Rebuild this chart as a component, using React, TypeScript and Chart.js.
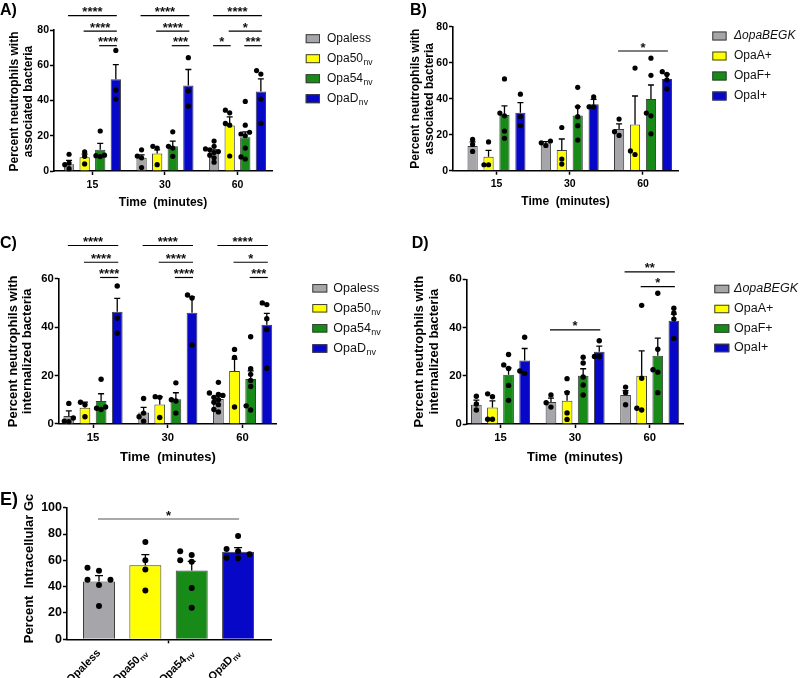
import React, { useEffect, useRef } from 'react';
import { Chart, registerables } from 'chart.js';

Chart.register(...registerables);

const FONT = "'Liberation Sans', Arial, Helvetica, sans-serif";

// ---------- categories ----------
const TIME_POINTS = ['15', '30', '60'];
const NV_STRAINS = ['Opaless', 'Opa50', 'Opa54', 'OpaD'];
const NV_SUBSCRIPTS = ['', 'nv', 'nv', 'nv'];
const PLUS_STRAINS = ['ΔopaBEGK', 'OpaA+', 'OpaF+', 'OpaI+'];
const PLUS_SUBSCRIPTS = ['', '', '', ''];
const STRAIN_COLORS = ['#A6A6AA', '#FFFF00', '#178A17', '#0707C8'];

// ---------- panel A: associated, Opa nv strains (rows = strain, cols = time) ----------
const A_MEAN = [[3.8, 7.5, 11.0], [7.8, 9.9, 25.8], [12.0, 14.0, 19.1], [52.0, 48.5, 45.1]];
const A_SEM = [[2.2, 1.6, 1.0], [1.8, 2.1, 4.9], [3.7, 3.0, 3.1], [8.3, 9.1, 7.2]];
const A_POINTS = [
  [[9.5, 4.5, 3.6, 1.3], [12, 8.5, 7.5, 2], [17, 14, 12.5, 12, 11, 10.5, 9, 7.5, 5]],
  [[10.8, 8.3, 4.0], [14, 13, 3.6], [34.5, 33, 27, 26, 8.5]],
  [[22.7, 9, 8.7, 8.2], [22.2, 14, 13, 8.3], [39.5, 26, 22, 21, 20, 13, 8, 6.8]],
  [[68.4, 45.9, 40.8], [64.3, 45.5, 36.8], [57, 55, 40.8, 27]],
];
const A_SIG = [
  { g1: 0, s1: 0, g2: 0, s2: 3, y: 88.1, label: '****' },
  { g1: 0, s1: 1, g2: 0, s2: 3, y: 79.4, label: '****' },
  { g1: 0, s1: 2, g2: 0, s2: 3, y: 71.1, label: '****' },
  { g1: 1, s1: 0, g2: 1, s2: 3, y: 88.1, label: '****' },
  { g1: 1, s1: 1, g2: 1, s2: 3, y: 79.4, label: '****' },
  { g1: 1, s1: 2, g2: 1, s2: 3, y: 71.1, label: '***' },
  { g1: 2, s1: 0, g2: 2, s2: 3, y: 88.1, label: '****' },
  { g1: 2, s1: 1, g2: 2, s2: 3, y: 79.4, label: '*' },
  { g1: 2, s1: 0, g2: 2, s2: 1, y: 71.1, label: '*' },
  { g1: 2, s1: 2, g2: 2, s2: 3, y: 71.1, label: '***' },
];

// ---------- panel B: associated, Opa+ strains ----------
const B_MEAN = [[13.7, 15.2, 23.1], [7.8, 11.5, 25.7], [31.0, 30.7, 39.8], [32.2, 36.9, 50.9]];
const B_SEM = [[2.3, 1.0, 2.9], [3.5, 6.1, 15.8], [5.0, 4.9, 7.8], [5.6, 2.7, 2.8]];
const B_POINTS = [
  [[17.4, 14.6, 10.7], [16.5, 15.5, 14], [28.7, 21.7, 19.6]],
  [[16, 3.3, 3.3], [24, 6.5, 3.7], [57, 11, 9]],
  [[51, 32, 30.5, 22, 18], [46.3, 35.5, 30, 25, 17], [62.5, 53, 32, 30.5, 20.5]],
  [[42.5, 30, 25], [41, 35.5, 35.5], [55, 53.5, 50.5, 45.5]],
];
const B_SIG = [{ g1: 2, s1: 0, g2: 2, s2: 3, y: 66.5, label: '*' }];

// ---------- panel C: internalized, Opa nv strains ----------
const C_MEAN = [[3.3, 4.8, 10.3], [6.7, 8.1, 21.9], [9.5, 10.2, 18.6], [46.4, 45.9, 41.0]];
const C_SEM = [[2.1, 2.1, 1.2], [2.3, 3.2, 4.9], [3.0, 2.7, 3.3], [5.5, 6.6, 4.7]];
const C_POINTS = [
  [[8.5, 2.5, 1.2, 1.0], [10.5, 4.5, 3, 1.2], [17.2, 12.8, 12.2, 11.8, 11, 10, 9, 8, 6, 5]],
  [[9, 8, 3], [11.3, 11, 2.7], [30.8, 27.5, 7]],
  [[18.5, 7, 6.5, 6], [17, 10, 9.5, 4.5], [36, 22.8, 20.5, 18, 15.5, 7.5, 5.8]],
  [[57, 43.8, 37.5], [53.3, 52, 32.6], [50, 49.3, 43.5, 39, 23]],
];
const C_SIG = [
  { g1: 0, s1: 0, g2: 0, s2: 3, y: 73.7, label: '****' },
  { g1: 0, s1: 1, g2: 0, s2: 3, y: 66.8, label: '****' },
  { g1: 0, s1: 2, g2: 0, s2: 3, y: 60.5, label: '****' },
  { g1: 1, s1: 0, g2: 1, s2: 3, y: 73.7, label: '****' },
  { g1: 1, s1: 1, g2: 1, s2: 3, y: 66.8, label: '****' },
  { g1: 1, s1: 2, g2: 1, s2: 3, y: 60.5, label: '****' },
  { g1: 2, s1: 0, g2: 2, s2: 3, y: 73.7, label: '****' },
  { g1: 2, s1: 1, g2: 2, s2: 3, y: 66.8, label: '*' },
  { g1: 2, s1: 2, g2: 2, s2: 3, y: 60.5, label: '***' },
];

// ---------- panel D: internalized, Opa+ strains ----------
const D_MEAN = [[8.0, 9.1, 12.0], [6.8, 9.6, 20.0], [20.4, 20.0, 28.3], [26.3, 30.0, 42.8]];
const D_SEM = [[1.9, 1.6, 1.8], [2.8, 3.7, 10.3], [2.9, 2.9, 7.3], [5.0, 2.3, 2.8]];
const D_POINTS = [
  [[11.5, 8.3, 5.8], [12, 8.8, 7], [15.3, 13, 8]],
  [[12.5, 11.3, 2, 2], [18.8, 13, 4.6, 1.9], [49.2, 19, 6.5, 5.8]],
  [[28.8, 24.5, 23, 16, 9.8], [27.7, 25.3, 19.5, 16.2, 12], [54.2, 31, 22.5, 21.5, 13]],
  [[36, 22, 21], [34.5, 28, 28], [48, 46, 43.5, 35.5]],
];
const D_SIG = [
  { g1: 1, s1: 0, g2: 1, s2: 3, y: 39, label: '*' },
  { g1: 2, s1: 0, g2: 2, s2: 3, y: 63.1, label: '**' },
  { g1: 2, s1: 1, g2: 2, s2: 3, y: 57, label: '*' },
];

// ---------- panel E: percent intracellular Gc ----------
const E_MEAN = [[44.0, 56.2, 52.2, 66.6]];
const E_SEM = [[4.4, 8.1, 7.0, 3.0]];
const E_POINTS = [[
  [54.4, 52, 45.3, 45.3, 41.3, 25.3],
  [74, 60, 53, 37],
  [67, 64, 60, 59, 39, 24],
  [78.5, 68.6, 67, 64.6, 62, 61.5],
]];
const E_SIG = [{ g1: 0, s1: 0, g2: 3, s2: 0, y: 91.4, label: '*' }];

const Y_AXIS_W = 30;

type Sig = { g1: number; s1: number; g2: number; s2: number; y: number; label: string };

const PANELS: any[] = [
  {
    key: 'A', letter: 'A)', letterX: 0, letterY: 15, letterSize: 16,
    L: 54, R: 272, T: 30, B: 171, yMax: 80, yStep: 20,
    xMin: -0.53, xMax: 2.476, xTicks: [0, 1, 2], xLabels: TIME_POINTS,
    catPct: 0.86, barPct: 0.66, single: false,
    means: A_MEAN, sems: A_SEM, points: A_POINTS, sigs: A_SIG, sigColor: '#000', starSize: 13,
    tickSize: 10.5, xTitle: 'Time  (minutes)', xTitleSize: 12, xH: 38.5,
    yTitle: ['Percent neutrophils with', 'associated bacteria'], yTitleX: [14.3, 28.7], yTitleCY: 101.5, yTitleSize: 12,
    legend: { names: NV_STRAINS, subs: NV_SUBSCRIPTS, italic: [false, false, false, false], boxX: 305.7, boxW: 14.3, boxH: 9, textX: 327, rows: [38.7, 58.7, 78.7, 98.7], size: 12 },
    r: 2.6, cap: 3, spread: 4.3, minDist: 4.3,
  },
  {
    key: 'B', letter: 'B)', letterX: 410, letterY: 15, letterSize: 16,
    L: 453, R: 678, T: 26.7, B: 170.7, yMax: 80, yStep: 20,
    xMin: -0.594, xMax: 2.478, xTicks: [0, 1, 2], xLabels: TIME_POINTS,
    catPct: 0.87, barPct: 0.64, single: false,
    means: B_MEAN, sems: B_SEM, points: B_POINTS, sigs: B_SIG, sigColor: '#000', starSize: 13,
    tickSize: 10.5, xTitle: 'Time  (minutes)', xTitleSize: 12, xH: 38.5,
    yTitle: ['Percent neutrophils with', 'associated bacteria'], yTitleX: [415.8, 430], yTitleCY: 98.7, yTitleSize: 12,
    legend: { names: PLUS_STRAINS, subs: PLUS_SUBSCRIPTS, italic: [true, false, false, false], boxX: 712.3, boxW: 14.3, boxH: 9, textX: 734, rows: [36, 56, 76, 96], size: 12 },
    r: 2.6, cap: 3, spread: 4.6, minDist: 4.6,
  },
  {
    key: 'C', letter: 'C)', letterX: 0, letterY: 248, letterSize: 16,
    L: 58.7, R: 277, T: 278.7, B: 424, yMax: 60, yStep: 20,
    xMin: -0.459, xMax: 2.46, xTicks: [0, 1, 2], xLabels: TIME_POINTS,
    catPct: 0.863, barPct: 0.665, single: false,
    means: C_MEAN, sems: C_SEM, points: C_POINTS, sigs: C_SIG, sigColor: '#000', starSize: 13,
    tickSize: 11.3, xTitle: 'Time  (minutes)', xTitleSize: 13, xH: 40.8,
    yTitle: ['Percent neutrophils with', 'internalized bacteria'], yTitleX: [13.5, 27.5], yTitleCY: 351.3, yTitleSize: 13,
    legend: { names: NV_STRAINS, subs: NV_SUBSCRIPTS, italic: [false, false, false, false], boxX: 312.3, boxW: 15, boxH: 8.5, textX: 333.3, rows: [288.3, 308.3, 328.3, 348.5], size: 12.5 },
    r: 2.7, cap: 3, spread: 4.5, minDist: 4.5,
  },
  {
    key: 'D', letter: 'D)', letterX: 411.7, letterY: 248, letterSize: 16,
    L: 466.7, R: 683, T: 279.3, B: 424, yMax: 60, yStep: 20,
    xMin: -0.453, xMax: 2.446, xTicks: [0, 1, 2], xLabels: TIME_POINTS,
    catPct: 0.863, barPct: 0.665, single: false,
    means: D_MEAN, sems: D_SEM, points: D_POINTS, sigs: D_SIG, sigColor: '#000', starSize: 13,
    tickSize: 11.3, xTitle: 'Time  (minutes)', xTitleSize: 13, xH: 40.8,
    yTitle: ['Percent neutrophils with', 'internalized bacteria'], yTitleX: [419.5, 434], yTitleCY: 351.6, yTitleSize: 13,
    legend: { names: PLUS_STRAINS, subs: PLUS_SUBSCRIPTS, italic: [true, false, false, false], boxX: 714.3, boxW: 15, boxH: 8.5, textX: 734, rows: [289, 309, 328.5, 348], size: 12.5 },
    r: 2.7, cap: 3, spread: 4.8, minDist: 4.8,
  },
  {
    key: 'E', letter: 'E)', letterX: 0, letterY: 505, letterSize: 18,
    L: 67, R: 271, T: 507.7, B: 639.3, yMax: 100, yStep: 20,
    xMin: -0.69, xMax: 3.71, xTicks: [1.5], xLabels: [],
    catPct: 1, barPct: 0.69, single: true,
    means: E_MEAN, sems: E_SEM, points: E_POINTS, sigs: E_SIG, sigColor: '#555', starSize: 13,
    tickSize: 12.5, xTitle: '', xTitleSize: 12, xH: 10,
    yTitle: ['Percent  Intracellular Gc'], yTitleX: [29.5], yTitleCY: 568.5, yTitleSize: 13,
    legend: null,
    rotLabels: { names: NV_STRAINS, subs: NV_SUBSCRIPTS, size: 11 },
    r: 3, cap: 4, spread: 11.5, minDist: 5.6,
  },
];

function swarm(py: number[], step: number, minDist: number): number[] {
  const order = py.map((_, i) => i).sort((a, b) => py[b] - py[a]);
  const placed: { x: number; y: number }[] = [];
  const out = new Array(py.length).fill(0);
  for (const i of order) {
    let k = 0;
    for (;;) {
      const off = k === 0 ? 0 : (k % 2 ? -1 : 1) * Math.ceil(k / 2) * step;
      if (placed.every((q) => (q.x - off) ** 2 + (q.y - py[i]) ** 2 >= minDist * minDist - 0.01)) {
        out[i] = off;
        placed.push({ x: off, y: py[i] });
        break;
      }
      k++;
      if (k > 20) break;
    }
  }
  return out;
}

function barEl(chart: any, s: number, g: number) {
  return chart.getDatasetMeta(s).data[g];
}

function makeOverlay(p: any) {
  return {
    id: 'overlay' + p.key,
    afterDatasetsDraw(chart: any) {
      const ctx = chart.ctx;
      const ys = chart.scales.y;
      ctx.save();
      // error bars (mean + SEM)
      p.means.forEach((row: number[], si: number) => {
        row.forEach((m: number, gi: number) => {
          const el = barEl(chart, si, gi);
          const x = el.x;
          const y0 = ys.getPixelForValue(m);
          const y1 = ys.getPixelForValue(m + p.sems[si][gi]);
          ctx.strokeStyle = '#000';
          ctx.lineWidth = 1.3;
          ctx.beginPath();
          ctx.moveTo(x, y0);
          ctx.lineTo(x, y1);
          ctx.moveTo(x - p.cap, y1);
          ctx.lineTo(x + p.cap, y1);
          ctx.stroke();
        });
      });
      // individual points
      ctx.fillStyle = '#000';
      p.points.forEach((rows: number[][], si: number) => {
        rows.forEach((vals: number[], gi: number) => {
          const el = barEl(chart, si, gi);
          const py = vals.map((v) => ys.getPixelForValue(v));
          const offs = swarm(py, p.spread, p.minDist);
          py.forEach((y, i) => {
            ctx.beginPath();
            ctx.arc(el.x + offs[i], y, p.r, 0, Math.PI * 2);
            ctx.fill();
          });
        });
      });
      ctx.restore();
    },
    afterDraw(chart: any) {
      const ctx = chart.ctx;
      const ys = chart.scales.y;
      ctx.save();
      // significance brackets
      (p.sigs as Sig[]).forEach((s) => {
        const x1 = barEl(chart, s.s1, s.g1).x - 1;
        const x2 = barEl(chart, s.s2, s.g2).x + 1;
        const y = ys.getPixelForValue(s.y);
        ctx.strokeStyle = p.sigColor;
        ctx.lineWidth = 1.2;
        ctx.beginPath();
        ctx.moveTo(x1, y);
        ctx.lineTo(x2, y);
        ctx.stroke();
        ctx.fillStyle = '#111';
        ctx.font = `bold ${p.starSize}px ${FONT}`;
        ctx.textAlign = 'center';
        ctx.textBaseline = 'alphabetic';
        ctx.fillText(s.label, (x1 + x2) / 2, y + 0.5);
      });
      // panel letter
      ctx.fillStyle = '#000';
      ctx.font = `bold ${p.letterSize}px ${FONT}`;
      ctx.textAlign = 'left';
      ctx.textBaseline = 'alphabetic';
      ctx.fillText(p.letter, p.letterX, p.letterY);
      // y-axis title
      p.yTitle.forEach((line: string, i: number) => {
        ctx.save();
        ctx.translate(p.yTitleX[i], p.yTitleCY);
        ctx.rotate(-Math.PI / 2);
        ctx.font = `bold ${p.yTitleSize}px ${FONT}`;
        ctx.textAlign = 'center';
        ctx.textBaseline = 'middle';
        ctx.fillStyle = '#000';
        ctx.fillText(line, 0, 0);
        ctx.restore();
      });
      // legend
      if (p.legend) {
        const lg = p.legend;
        lg.names.forEach((name: string, i: number) => {
          const cy = lg.rows[i];
          ctx.fillStyle = STRAIN_COLORS[i];
          ctx.fillRect(lg.boxX, cy - lg.boxH / 2, lg.boxW, lg.boxH);
          ctx.strokeStyle = '#3C3C3C';
          ctx.lineWidth = 1;
          ctx.strokeRect(lg.boxX + 0.5, cy - lg.boxH / 2 + 0.5, lg.boxW - 1, lg.boxH - 1);
          ctx.fillStyle = '#111';
          ctx.textAlign = 'left';
          ctx.textBaseline = 'middle';
          ctx.font = `${lg.italic[i] ? 'italic ' : ''}${lg.size}px ${FONT}`;
          ctx.fillText(name, lg.textX, cy);
          if (lg.subs[i]) {
            const w = ctx.measureText(name).width;
            ctx.font = `${lg.size * 0.72}px ${FONT}`;
            ctx.fillText(lg.subs[i], lg.textX + w + 0.5, cy + lg.size * 0.3);
          }
        });
      }
      // rotated category labels (panel E)
      if (p.rotLabels) {
        const rl = p.rotLabels;
        rl.names.forEach((name: string, i: number) => {
          const el = barEl(chart, 0, i);
          ctx.save();
          ctx.translate(el.x, p.B + 12);
          ctx.rotate(-Math.PI / 4);
          ctx.fillStyle = '#000';
          ctx.textBaseline = 'middle';
          ctx.textAlign = 'left';
          ctx.font = `bold ${rl.size}px ${FONT}`;
          const wMain = ctx.measureText(name).width;
          ctx.font = `bold ${rl.size * 0.72}px ${FONT}`;
          const wSub = rl.subs[i] ? ctx.measureText(rl.subs[i]).width + 0.5 : 0;
          const x0 = -(wMain + wSub);
          ctx.font = `bold ${rl.size}px ${FONT}`;
          ctx.fillText(name, x0, 0);
          if (rl.subs[i]) {
            ctx.font = `bold ${rl.size * 0.72}px ${FONT}`;
            ctx.fillText(rl.subs[i], x0 + wMain + 0.5, rl.size * 0.3);
          }
          ctx.restore();
        });
      }
      ctx.restore();
    },
  };
}

function buildConfig(p: any): any {
  const datasets = p.means.map((row: number[], si: number) => ({
    label: p.single ? 'Percent Intracellular Gc' : p.legend.names[si],
    data: row.map((v: number, gi: number) => ({ x: gi, y: v })),
    backgroundColor: p.single ? STRAIN_COLORS : STRAIN_COLORS[si],
    borderColor: '#3C3C3C',
    borderWidth: 1,
    categoryPercentage: p.catPct,
    barPercentage: p.barPct,
  }));
  const tickFont = { family: FONT, size: p.tickSize, weight: 'bold' };
  return {
    type: 'bar',
    data: { datasets },
    options: {
      responsive: false,
      maintainAspectRatio: false,
      animation: false,
      devicePixelRatio: 1,
      events: [],
      layout: {
        padding: {
          left: p.L - Y_AXIS_W,
          right: 800 - p.R,
          top: p.T,
          bottom: 678 - p.B - p.xH,
        },
      },
      plugins: { legend: { display: false }, tooltip: { enabled: false }, title: { display: false } },
      scales: {
        x: {
          type: 'linear',
          offset: false,
          min: p.xMin,
          max: p.xMax,
          bounds: 'data',
          afterBuildTicks: (axis: any) => {
            axis.ticks = p.xTicks.map((v: number) => ({ value: v }));
          },
          afterFit: (axis: any) => {
            axis.height = p.xH;
          },
          ticks: {
            autoSkip: false,
            maxRotation: 0,
            padding: 3.5,
            color: '#000',
            font: tickFont,
            callback: (v: number) => {
              const i = p.xTicks.indexOf(v);
              return i >= 0 && p.xLabels[i] ? p.xLabels[i] : '';
            },
          },
          grid: { offset: false, drawOnChartArea: false, drawTicks: true, tickLength: 4, tickColor: '#000', tickWidth: 1.5 },
          border: { display: true, color: '#000', width: 1.6 },
          title: {
            display: !!p.xTitle,
            text: p.xTitle,
            color: '#000',
            font: { family: FONT, size: p.xTitleSize, weight: 'bold' },
            padding: { top: 0, bottom: 0 },
          },
        },
        y: {
          min: 0,
          max: p.yMax,
          afterFit: (axis: any) => {
            axis.width = Y_AXIS_W;
          },
          ticks: { stepSize: p.yStep, padding: 1, color: '#000', font: tickFont },
          grid: { drawOnChartArea: false, drawTicks: true, tickLength: 4, tickColor: '#000', tickWidth: 1.5 },
          border: { display: true, color: '#000', width: 1.6 },
        },
      },
    },
    plugins: [makeOverlay(p)],
  };
}

function PanelChart({ p }: { p: any }) {
  const ref = useRef<HTMLCanvasElement>(null);
  useEffect(() => {
    if (!ref.current) return;
    const chart = new Chart(ref.current, buildConfig(p));
    return () => chart.destroy();
  }, [p]);
  return (
    <canvas
      ref={ref}
      width={800}
      height={678}
      style={{ position: 'absolute', left: 0, top: 0, width: 800, height: 678 }}
    />
  );
}

export default function App() {
  return (
    <div
      style={{
        position: 'fixed',
        left: 0,
        top: 0,
        width: 800,
        height: 678,
        background: '#fff',
        overflow: 'hidden',
      }}
    >
      {PANELS.map((p) => (
        <PanelChart key={p.key} p={p} />
      ))}
    </div>
  );
}
